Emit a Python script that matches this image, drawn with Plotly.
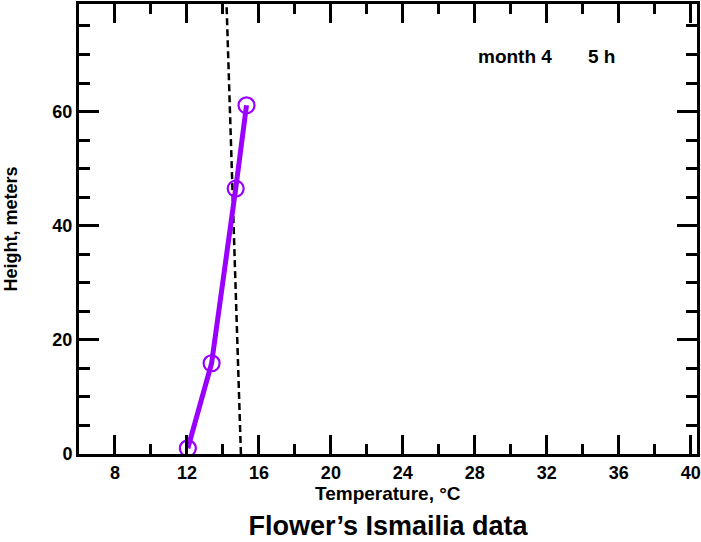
import plotly.graph_objects as go

# Data
temperature = [12.05, 13.37, 14.71, 15.31]
height = [1.0, 15.9, 46.5, 61.1]
ref_temp = [15.0, 14.2]
ref_height = [0.0, 78.85]
x_ticks = [8, 12, 16, 20, 24, 28, 32, 36, 40]
y_ticks = [0, 20, 40, 60]

purple = "#9900FF"
FONT = "Liberation Sans, Arial, Helvetica, sans-serif"

fig = go.Figure()
fig.add_trace(go.Scatter(
    x=ref_temp, y=ref_height, mode="lines",
    line=dict(color="black", width=2.5, dash="7px,4px"),
    showlegend=False, hoverinfo="skip"))
fig.add_trace(go.Scatter(
    x=temperature, y=height, mode="lines+markers",
    line=dict(color=purple, width=5),
    marker=dict(symbol="circle-open", size=16, color=purple, line=dict(width=2.2, color=purple)),
    showlegend=False))

axis_common = dict(
    showline=True, linecolor="black", linewidth=3, mirror="allticks",
    ticks="inside", tickcolor="black", tickwidth=3,
    showgrid=False, zeroline=False,
    tickfont=dict(family=FONT, size=18, color="black", weight="bold"),
)

fig.update_xaxes(range=[6.0, 40.35], tickmode="array", tickvals=x_ticks,
                 ticktext=[str(v) for v in x_ticks], ticklen=19,
                 minor=dict(dtick=2, tick0=0, ticks="inside", ticklen=10, tickwidth=3, tickcolor="black"),
                 **axis_common)
fig.update_yaxes(range=[0, 78.85], tickmode="array", tickvals=y_ticks,
                 ticktext=[str(v) for v in y_ticks], ticklen=20,
                 minor=dict(dtick=5, tick0=0, ticks="inside", ticklen=11, tickwidth=3, tickcolor="black"),
                 **axis_common)

fig.add_annotation(x=30.22, y=69.6, xref="x", yref="y", text="month 4", showarrow=False,
                   font=dict(family=FONT, size=19, color="black", weight="bold"))
fig.add_annotation(x=35.03, y=69.6, xref="x", yref="y", text="5 h", showarrow=False,
                   font=dict(family=FONT, size=19, color="black", weight="bold"))
fig.add_annotation(x=0.5, y=(454 - 494) / 453, xref="paper", yref="paper", yanchor="middle",
                   text="Temperature, °C", showarrow=False,
                   font=dict(family=FONT, size=19, color="black", weight="bold"))
fig.add_annotation(x=(10.5 - 79) / 619, y=0.5, xref="paper", yref="paper", xanchor="center",
                   text="Height, meters", textangle=-90, showarrow=False,
                   font=dict(family=FONT, size=18, color="black", weight="bold"))

fig.update_layout(
    width=701, height=542,
    margin=dict(l=79, r=3, t=1, b=88),
    paper_bgcolor="white", plot_bgcolor="white",
    title=dict(text="Flower’s Ismailia data", x=0.5, xref="paper",
               y=1 - 526 / 542, yref="container", yanchor="middle",
               font=dict(family=FONT, size=27, color="black", weight="bold")),
)

fig.write_html("out.html")
